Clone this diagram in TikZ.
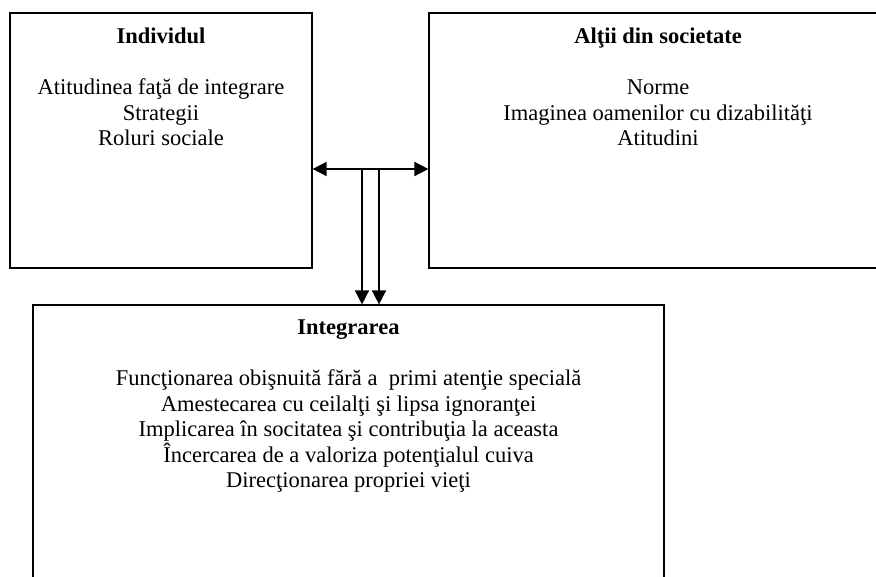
\documentclass[tikz,border=0pt]{standalone}
\usepackage{fontspec}
\setmainfont{Liberation Serif}
\usetikzlibrary{arrows.meta}

\begin{document}
\begin{tikzpicture}[
		x=1pt, y=-1pt,
		box/.style={rectangle, draw, line width=1.2pt, inner sep=0pt},
		txt/.style={align=center, anchor=north, inner sep=0pt, font=\fontsize{22.5}{25.5}\selectfont},
		arr/.style={line width=1.6pt, -{Triangle[length=14pt, width=14pt]}},
		twoarr/.style={line width=1.6pt, {Triangle[length=14pt, width=14pt]}-{Triangle[length=14pt, width=14pt]}}
	]
  \useasboundingbox (0,0) rectangle (876,576);
  \node (indiv) [box, minimum width=302pt, minimum height=255pt] at (161,140.5) {};
  \node (altii) [box, minimum width=458pt, minimum height=255pt] at (658,140.5) {};
  \node (integr) [box, minimum width=631pt, minimum height=295pt] at (348.5,452.5) {};
  \node (indiv_txt) [txt] at (indiv.north |- 0,28) {\textbf{Individul}\\[25.5pt]
    Atitudinea faţă de integrare\\ Strategii\\ Roluri sociale};
  \node (altii_txt) [txt] at (altii.north |- 0,28) {\textbf{Alţii din societate}\\[25.5pt]
    Norme\\ Imaginea oamenilor cu dizabilităţi\\ Atitudini};
  \node (integr_txt) [txt] at (integr.north |- 0,320) {\textbf{Integrarea}\\[25.5pt]
    Funcţionarea obişnuită fără a~ primi atenţie specială\\
    Amestecarea cu ceilalţi şi lipsa ignoranţei\\
    Implicarea în socitatea şi contribuţia la aceasta\\
    Încercarea de a valoriza potenţialul cuiva\\
    Direcţionarea propriei vieţi};
  \coordinate (j1) at (362,169);
  \coordinate (j2) at (379,169);
  \draw [twoarr] (indiv.east |- j1) -- (altii.west |- j1);
  \draw [arr] (j1) -- (j1 |- integr.north);
  \draw [arr] (j2) -- (j2 |- integr.north);
\end{tikzpicture}
\end{document}
